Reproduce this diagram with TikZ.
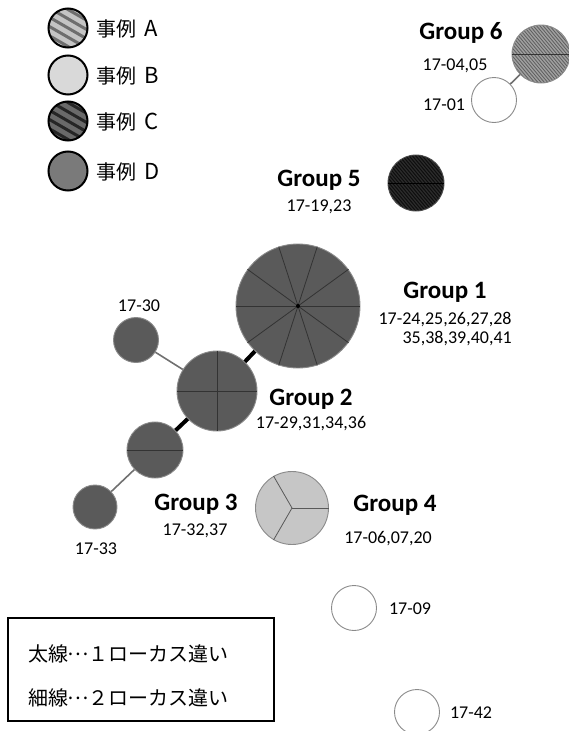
\documentclass[tikz,border=0pt]{standalone}
\usepackage{fontspec}
\setmainfont{Carlito}
\newfontfamily\jp{Noto Sans CJK JP}
\definecolor{cgray}{HTML}{8A8A8A}
\definecolor{nodefill}{HTML}{5A5A5A}
\definecolor{gfour}{HTML}{C6C6C6}
\definecolor{legB}{HTML}{D9D9D9}
\definecolor{legD}{HTML}{7A7A7A}
\definecolor{legAbg}{HTML}{C4C4C4}
\definecolor{legAst}{HTML}{6E6E6E}
\definecolor{legCbg}{HTML}{6A6A6A}
\definecolor{legCst}{HTML}{262626}
\definecolor{gsixbg}{HTML}{A0A0A0}
\definecolor{gsixst}{HTML}{5E5E5E}
\definecolor{gfivebg}{HTML}{2C2C2C}
\definecolor{gfivest}{HTML}{0E0E0E}
\definecolor{thin}{HTML}{707070}
\tikzset{
  hap/.style={circle, inner sep=0pt, minimum size=#1, draw=cgray, line width=0.9pt},
  leg/.style={circle, inner sep=0pt, minimum size=39, draw=black, line width=2pt},
  widestripes/.style 2 args={path picture={
      \begin{scope}[shift={(path picture bounding box.center)}]
        \foreach \k in {-64,-48,...,64}{\draw[#1, line width=#2] (\k-40,-23.1) -- (\k+40,23.1);}
      \end{scope}}},
  finestripes/.style 2 args={path picture={
      \begin{scope}[shift={(path picture bounding box.center)}]
        \foreach \k in {-60,-56.7,...,60}{\draw[#1, line width=#2] (\k-30,-35.8) -- (\k+30,35.8);}
      \end{scope}}},
  sector/.style={draw=black!80, line width=0.8pt},
  thinlink/.style={draw=thin, line width=1.6pt},
  thicklink/.style={draw=black, line width=4pt},
  grp/.style={font=\bfseries\fontsize{25}{28}\selectfont, anchor=base, inner sep=0pt},
  ids/.style={font=\fontsize{18}{20}\selectfont, anchor=base, inner sep=0pt},
  legtxt/.style={font=\jp\fontsize{20}{22}\selectfont, anchor=west, inner sep=0pt},
}
\newcommand{\legletter}[1]{\hspace{0.4em}{\fontsize{22}{22}\selectfont #1}}
\newcommand{\middots}{\hbox to 1em{\hss\raisebox{0.3em}{…}\hss}}
\begin{document}
\begin{tikzpicture}[x=1pt,y=-1pt]
\useasboundingbox (0,0) rectangle (568,731);
% legend
\node[leg, fill=legAbg, widestripes={legAst}{3pt}] (legA) at (68,28) {};
\node[leg, fill=legB] (legBc) at (68,75) {};
\node[leg, fill=legCbg, widestripes={legCst}{3pt}] (legC) at (68,121) {};
\node[leg, fill=legD] (legDc) at (68,171) {};
\node[legtxt] (tA) at (96,29) {事例\legletter{A}};
\node[legtxt] (tB) at (96,76) {事例\legletter{B}};
\node[legtxt] (tC) at (96,122) {事例\legletter{C}};
\node[legtxt] (tD) at (96,172) {事例\legletter{D}};
% haplotype circles
\node[hap=58, fill=gsixbg, finestripes={gsixst}{0.8pt}] (g6) at (541,54) {};
\node[hap=45, fill=white] (n01) at (494,100) {};
\node[hap=56, fill=gfivebg, draw=black!70, finestripes={gfivest}{1pt}] (g5) at (416,183) {};
\node[hap=124, fill=nodefill] (g1) at (298,306) {};
\node[hap=80, fill=nodefill] (g2) at (217,391) {};
\node[hap=45, fill=nodefill] (n30) at (136,340) {};
\node[hap=56, fill=nodefill] (g3) at (155,450) {};
\node[hap=44, fill=nodefill] (n33) at (95,507) {};
\node[hap=73, fill=gfour] (g4) at (292,508) {};
\node[hap=45, fill=white] (n09) at (354,608) {};
\node[hap=45, fill=white] (n42) at (417,712) {};
% sectors
\draw[sector] (g6.west) -- (g6.east);
\draw[sector, draw=black] (g5.west) -- (g5.east);
\foreach \a in {0,36,...,324}{\draw[sector] (g1.center) -- (g1.\a);}
\fill (g1.center) circle (2);
\draw[sector] (g2.west) -- (g2.east);
\draw[sector] (g2.north) -- (g2.south);
\draw[sector] (g3.west) -- (g3.east);
\foreach \a in {0,120,240}{\draw[sector, draw=black!65] (g4.center) -- (g4.\a);}
% connectors
\draw[thinlink] (n01) -- (g6);
\draw[thicklink] (g2) -- (g1);
\draw[thinlink] (n30) -- (g2);
\draw[thicklink] (g2) -- (g3);
\draw[thinlink] (g3) -- (n33);
% labels
\node[grp] (lg6) at (461,39) {Group 6};
\node[ids] (l0405) at (455,70) {17-04,05};
\node[ids] (l01) at (444,110) {17-01};
\node[grp] (lg5) at (319,186) {Group 5};
\node[ids] (l1923) at (319,211) {17-19,23};
\node[grp] (lg1) at (445,298) {Group 1};
\node[ids] (l24) at (445,324) {17-24,25,26,27,28};
\node[ids, anchor=base east] (l35) at (512,343) {35,38,39,40,41};
\node[grp] (lg2) at (311,405) {Group 2};
\node[ids] (l29) at (311,428) {17-29,31,34,36};
\node[ids] (l30) at (139,311) {17-30};
\node[grp] (lg3) at (196,510) {Group 3};
\node[ids] (l3237) at (195,535) {17-32,37};
\node[ids] (l33) at (96,554) {17-33};
\node[grp] (lg4) at (395,511) {Group 4};
\node[ids] (l0607) at (388,543) {17-06,07,20};
\node[ids] (l09) at (410,614) {17-09};
\node[ids] (l42) at (471,718) {17-42};
% note box
\node[draw=black, line width=1.5pt, minimum width=266, minimum height=103, anchor=north west, inner sep=0pt] (box) at (7,617) {};
\node[legtxt] (note1) at (28,654) {太線\middots１ローカス違い};
\node[legtxt] (note2) at (28,698) {細線\middots２ローカス違い};
\end{tikzpicture}
\end{document}
